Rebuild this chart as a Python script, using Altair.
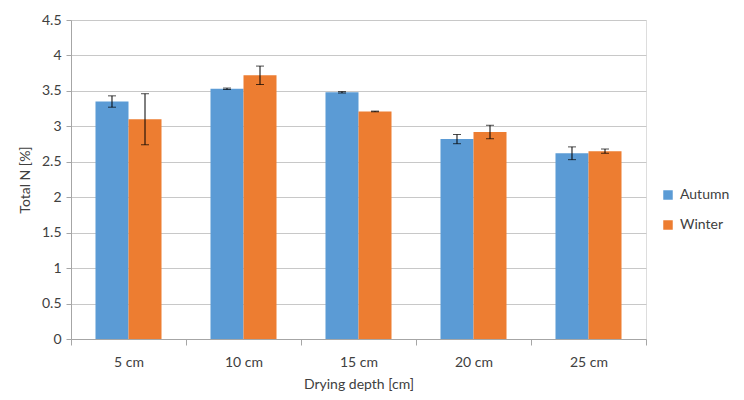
import altair as alt
import pandas as pd

depths = ["5 cm", "10 cm", "15 cm", "20 cm", "25 cm"]
autumn = [3.35, 3.53, 3.48, 2.82, 2.62]
autumn_err = [0.08, 0.01, 0.01, 0.065, 0.09]
winter = [3.10, 3.72, 3.21, 2.92, 2.65]
winter_err = [0.36, 0.13, 0.005, 0.095, 0.03]
seasons = ["Autumn", "Winter"]
colors = ["#5B9BD5", "#ED7D31"]
y_ticks = [0, 0.5, 1, 1.5, 2, 2.5, 3, 3.5, 4, 4.5]

rows = []
for i, d in enumerate(depths):
    rows.append({"depth": d, "season": "Autumn", "value": autumn[i],
                 "lo": autumn[i] - autumn_err[i], "hi": autumn[i] + autumn_err[i]})
    rows.append({"depth": d, "season": "Winter", "value": winter[i],
                 "lo": winter[i] - winter_err[i], "hi": winter[i] + winter_err[i]})
df = pd.DataFrame(rows)

FONT = "Lato"
GRID = "#C8C8C8"
TXT = "#404040"

x = alt.X("depth:N", sort=depths, title="Drying depth [cm]",
          scale=alt.Scale(paddingInner=0, paddingOuter=0),
          axis=alt.Axis(labelAngle=0, tickBand="extent", domainColor="#A6A6A6",
                        tickColor="#A6A6A6", tickSize=6, labelPadding=10,
                        titlePadding=8, labelFontSize=14, titleFontSize=14,
                        labelColor=TXT, titleColor=TXT,
                        labelFont=FONT, titleFont=FONT, titleFontWeight="normal"))
xo = alt.XOffset("season:N", sort=seasons,
                 scale=alt.Scale(paddingInner=0, paddingOuter=0.742))

y_scale = alt.Scale(domain=[0, 4.5], nice=False)
y_axis = alt.Axis(values=y_ticks, format="~g", gridColor=GRID, gridWidth=1,
                  labelOverlap=False, tickCount=10,
                  domainColor="#A6A6A6", tickColor="#A6A6A6", tickSize=5,
                  labelPadding=5, titlePadding=9, labelFontSize=14,
                  titleFontSize=14, labelColor=TXT,
                  titleColor=TXT, labelFont=FONT, titleFont=FONT,
                  titleFontWeight="normal")
TITLE = "Total N [%]"

bars = alt.Chart(df).mark_bar().encode(
    x=x,
    xOffset=xo,
    y=alt.Y("value:Q", scale=y_scale, title=TITLE, axis=y_axis),
    color=alt.Color("season:N", sort=seasons,
                    scale=alt.Scale(domain=seasons, range=colors),
                    legend=alt.Legend(title=None, orient="none", legendX=590,
                                      legendY=168, symbolType="square",
                                      symbolSize=90, labelFontSize=14,
                                      labelFont=FONT, labelColor=TXT,
                                      rowPadding=16, labelOffset=5,
                                      symbolStrokeWidth=0)),
)

rules = alt.Chart(df).mark_rule(color="#000000", strokeWidth=1).encode(
    x=x, xOffset=xo,
    y=alt.Y("lo:Q", scale=y_scale, title=TITLE, axis=y_axis), y2="hi:Q")

caps_hi = alt.Chart(df).mark_tick(color="#000000", thickness=1, size=8).encode(
    x=x, xOffset=xo, y=alt.Y("hi:Q", scale=y_scale, title=TITLE, axis=y_axis))
caps_lo = alt.Chart(df).mark_tick(color="#000000", thickness=1, size=8).encode(
    x=x, xOffset=xo, y=alt.Y("lo:Q", scale=y_scale, title=TITLE, axis=y_axis))

chart = alt.layer(bars, rules, caps_hi, caps_lo).properties(
    width=575, height=319,
    autosize=alt.AutoSizeParams(type="none"),
    padding={"left": 63, "top": 12, "right": 90, "bottom": 53},
).configure_view(stroke=None).configure(background="white")

chart.save("out.html", embed_options={"renderer": "svg", "actions": False})
